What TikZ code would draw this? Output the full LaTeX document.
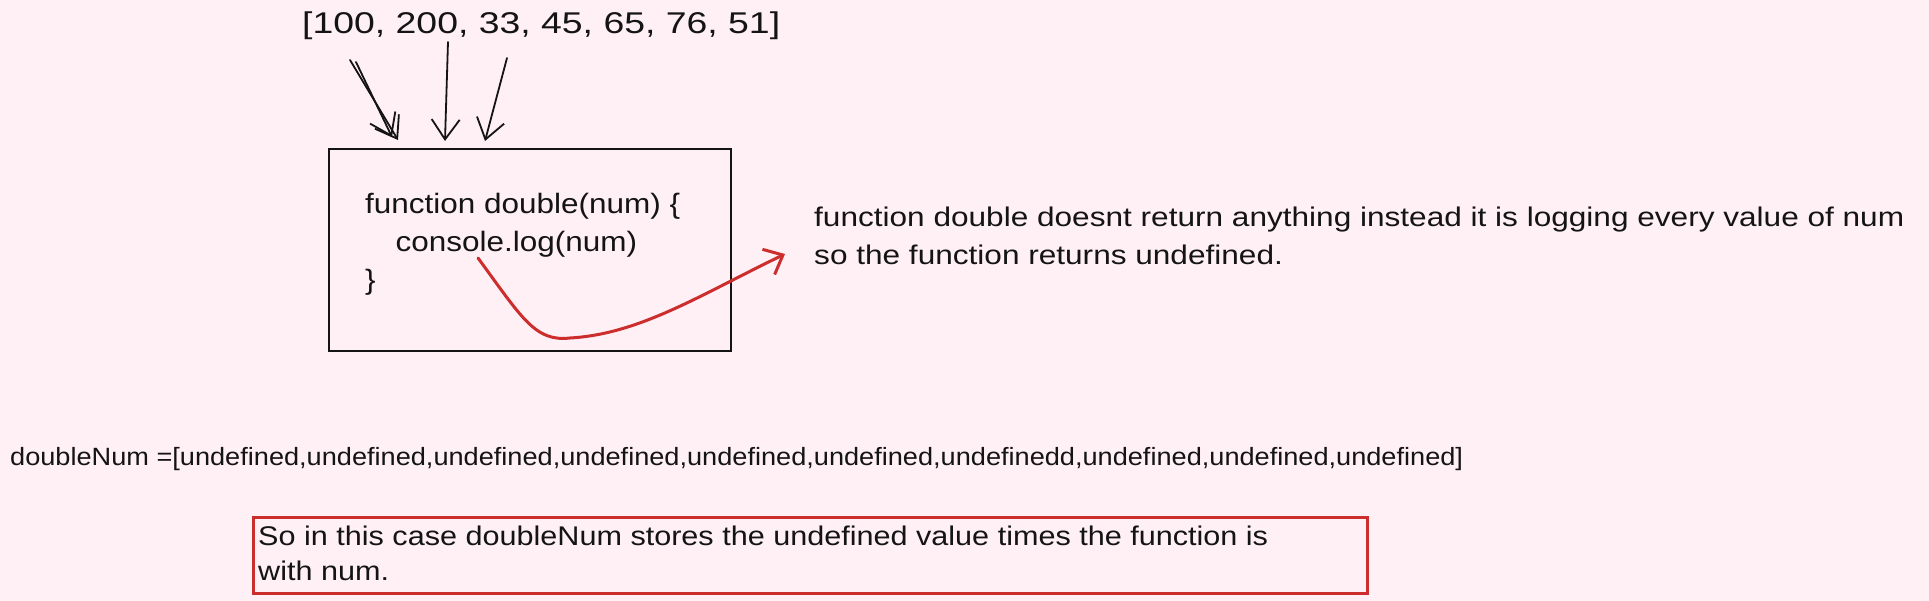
\documentclass[tikz,border=0pt]{standalone}
\usepackage{fontspec}
\setmainfont{Liberation Sans}
\usepackage{graphicx}
\usetikzlibrary{arrows.meta}
\definecolor{bgpink}{RGB}{255,240,245}
\definecolor{inkred}{RGB}{204,45,45}
\definecolor{ink}{RGB}{20,20,20}
\newcommand{\fitw}[2]{\resizebox{#1}{\height}{#2}}
\tikzset{
  txt/.style={inner sep=0pt, anchor=west, text=ink, align=left},
  pen/.style={draw=ink, line width=1.8pt, line cap=round, line join=round},
  penarrow/.style={pen, -{Straight Barb[length=20pt, width=28pt, line width=1.8pt]}},
  redarrow/.style={draw=inkred, line width=3pt, line cap=round, -{Straight Barb[length=16pt, width=28pt, line width=3pt]}},
  codebox/.style={draw=ink, line width=1.9pt, rectangle, minimum width=402pt, minimum height=202pt, inner sep=0pt},
  notebox/.style={draw=inkred, line width=3pt, rectangle, minimum width=1114pt, minimum height=76pt, inner sep=0pt},
}
\begin{document}
\begin{tikzpicture}[x=1pt, y=-1pt]
\fill[bgpink] (0,0) rectangle (1929,601);
\useasboundingbox (0,0) rectangle (1929,601);

% array
\node[txt, anchor=base west] (arr) at (302,34) {\fitw{478pt}{\fontsize{30}{36}\selectfont [100, 200, 33, 45, 65, 76, 51]}};

% code box
\node[codebox] (box) at (530,250) {};
\node[txt] (code) at (365,244) {\fitw{315pt}{\fontsize{28}{38}\selectfont\begin{tabular}{@{}l@{}}function double(num) \{\\\hspace*{27pt}console.log(num)\\\}\end{tabular}}};

% coordinates for arrows
\coordinate (a1s) at (350,60);
\coordinate (a1e) at (398,140);
\coordinate (a1bs) at (356,62);
\coordinate (a1be) at (392,137);
\coordinate (a2s) at (448,42);
\coordinate (a2e) at (445,141);
\coordinate (a3s) at (507,58);
\coordinate (a3e) at (485,141);
\draw[penarrow] (a1s) -- (a1e);
\draw[penarrow] (a1bs) -- (a1be);
\draw[penarrow] (a2s) -- (a2e);
\draw[penarrow] (a3s) -- (a3e);

% explanation
\node[txt] (expl) at (814,238) {\fitw{1090pt}{\fontsize{27}{38}\selectfont\begin{tabular}{@{}l@{}}function double doesnt return anything instead it is logging every value of num\\so the function returns undefined.\end{tabular}}};

% red curve
\coordinate (rs) at (478,258);
\coordinate (rm) at (570,338);
\coordinate (re) at (785,254);
\draw[redarrow] (rs) .. controls (522,318) and (535,342) .. (rm) .. controls (640,334) and (700,295) .. (re);

% doubleNum line
\node[txt] (dn) at (10,459) {\fitw{1453pt}{\fontsize{25}{30}\selectfont doubleNum =[undefined,undefined,undefined,undefined,undefined,undefined,undefinedd,undefined,undefined,undefined]}};

% note box
\node[notebox] (note) at (810,555) {};
\node[txt] (notetext) at (258,556) {\fitw{1010pt}{\fontsize{27}{35}\selectfont\begin{tabular}{@{}l@{}}So in this case doubleNum stores the undefined value times the function is\\with num.\end{tabular}}};
\end{tikzpicture}
\end{document}
